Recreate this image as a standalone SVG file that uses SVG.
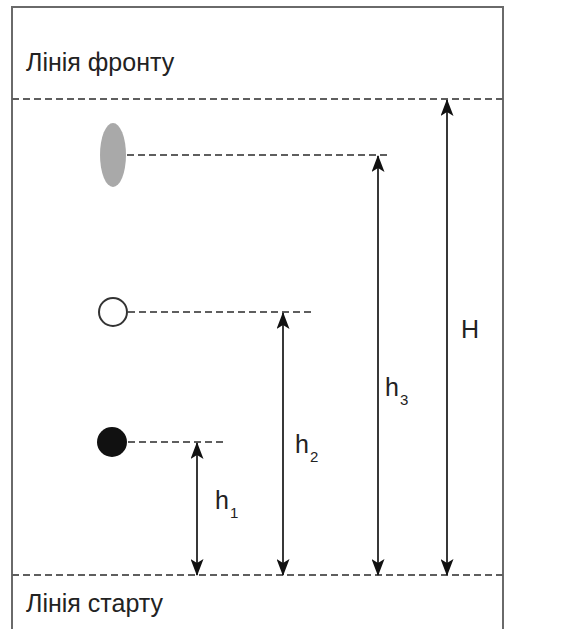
<svg xmlns="http://www.w3.org/2000/svg" width="583" height="629" viewBox="0 0 583 629">
  <style>
    .frame { fill: none; stroke: #6a6a6a; stroke-width: 2; }
    .guide { fill: none; stroke: #5e5e5e; stroke-width: 1.8; stroke-dasharray: 7 4; }
    .dim { fill: none; stroke: #222; stroke-width: 1.8; marker-start: url(#arrow); marker-end: url(#arrow); }
    .label { font-family: "Liberation Sans", Arial, sans-serif; fill: #222; }
    .title { font-size: 25px; }
    .sym { font-size: 25px; }
    .sub { font-size: 15px; }
  </style>
  <defs>
    <marker id="arrow" viewBox="0 0 17 13" refX="16" refY="6.5" markerWidth="17" markerHeight="13" markerUnits="userSpaceOnUse" orient="auto-start-reverse">
      <path d="M0,0 L17,6.5 L0,13 L4,6.5 Z" fill="#111"/>
    </marker>
  </defs>

  <rect width="583" height="629" fill="#fff"/>

  <!-- plate outline (open at the bottom) -->
  <path class="frame" d="M12,640 L12,7 L503,7 L503,640"/>

  <!-- solvent front and start lines -->
  <g id="front-line">
    <line class="guide" x1="12" y1="99" x2="503" y2="99"/>
    <text class="label title" x="26" y="71">Лінія фронту</text>
  </g>
  <g id="start-line">
    <line class="guide" x1="12" y1="575" x2="503" y2="575"/>
    <text class="label title" x="26" y="612">Лінія старту</text>
  </g>

  <!-- spots -->
  <g id="spot-3">
    <ellipse cx="113" cy="155" rx="13" ry="32" fill="#a9a9a9"/>
    <line class="guide" x1="127" y1="155" x2="390" y2="155"/>
  </g>
  <g id="spot-2">
    <circle cx="113" cy="312" r="14" fill="#fff" stroke="#333" stroke-width="2"/>
    <line class="guide" x1="128" y1="312" x2="313" y2="312"/>
  </g>
  <g id="spot-1">
    <circle cx="112" cy="442" r="15" fill="#111"/>
    <line class="guide" x1="128" y1="442" x2="225" y2="442"/>
  </g>

  <!-- distance arrows -->
  <g id="connectors">
    <line class="dim" x1="197" y1="575" x2="197" y2="443"/>
    <line class="dim" x1="283" y1="575" x2="283" y2="313"/>
    <line class="dim" x1="378" y1="575" x2="378" y2="156"/>
    <line class="dim" x1="447" y1="575" x2="447" y2="100"/>
  </g>

  <!-- distance labels -->
  <g id="label-h1">
    <text class="label sym" x="215" y="509">h</text>
    <text class="label sub" x="230" y="518">1</text>
  </g>
  <g id="label-h2">
    <text class="label sym" x="295" y="453">h</text>
    <text class="label sub" x="310" y="462">2</text>
  </g>
  <g id="label-h3">
    <text class="label sym" x="385" y="396">h</text>
    <text class="label sub" x="400" y="405">3</text>
  </g>
  <g id="label-H">
    <text class="label sym" x="461" y="338">H</text>
  </g>
</svg>
